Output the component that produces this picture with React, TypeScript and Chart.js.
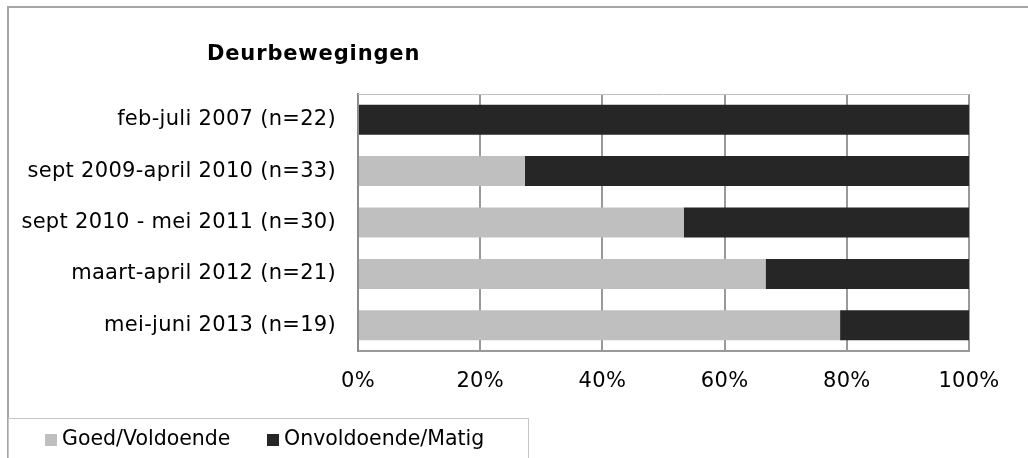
import React, { useEffect, useRef } from "react";
import { Chart, registerables } from "chart.js";

Chart.register(...registerables);

const categories = [
  "feb-juli 2007 (n=22)",
  "sept 2009-april 2010 (n=33)",
  "sept 2010 - mei 2011 (n=30)",
  "maart-april 2012 (n=21)",
  "mei-juni 2013 (n=19)",
];
const goedValues = [0, 27.3, 53.3, 66.7, 78.9];
const onvoldoendeValues = [100, 72.7, 46.7, 33.3, 21.1];
const seriesNames = ["Goed/Voldoende", "Onvoldoende/Matig"];
const seriesColors = ["#bfbfbf", "#262626"];
const titleText = "Deurbewegingen";

const FONT = "'DejaVu Sans', Verdana, sans-serif";

const framePlugin = {
  id: "frame",
  beforeDraw(chart: any) {
    const ctx = chart.ctx;
    ctx.save();
    ctx.fillStyle = "#ffffff";
    ctx.fillRect(0, 0, chart.width, chart.height);
    ctx.restore();
    (ctx as any).letterSpacing = "0.3px";
  },
  beforeDatasetsDraw(chart: any) {
    const { ctx, chartArea } = chart;
    ctx.save();
    ctx.strokeStyle = "#c0c0c0";
    ctx.lineWidth = 1;
    ctx.beginPath();
    ctx.moveTo(chartArea.left, chartArea.top + 0.5);
    ctx.lineTo(chartArea.right, chartArea.top + 0.5);
    ctx.stroke();
    ctx.restore();
  },
  afterDraw(chart: any) {
    const ctx = chart.ctx;
    ctx.save();
    // outer frame
    ctx.strokeStyle = "#a6a6a6";
    ctx.lineWidth = 2;
    ctx.strokeRect(8, 7, chart.width + 20, chart.height + 20);
    // title
    ctx.fillStyle = "#000";
    (ctx as any).letterSpacing = "0.85px";
    ctx.font = `bold 21px ${FONT}`;
    ctx.textAlign = "left";
    ctx.textBaseline = "alphabetic";
    ctx.fillText(titleText, 207, 60);
    // legend box
    ctx.strokeStyle = "#c4c4c4";
    ctx.lineWidth = 1;
    ctx.strokeRect(8.5, 418.5, 520, 60);
    // legend items
    const items = chart.data.datasets.map((d: any) => ({ label: d.label, color: d.backgroundColor }));
    const xs = [45, 267];
    (ctx as any).letterSpacing = "0px";
    ctx.font = `20.5px ${FONT}`;
    ctx.textBaseline = "middle";
    items.forEach((it: any, i: number) => {
      ctx.fillStyle = it.color;
      ctx.fillRect(xs[i], 434, 12, 12);
      ctx.fillStyle = "#000";
      ctx.fillText(it.label, xs[i] + 17, 440);
    });
    ctx.restore();
  },
};

export default function App() {
  const ref = useRef<HTMLCanvasElement | null>(null);
  useEffect(() => {
    if (!ref.current) return;
    const chart = new Chart(ref.current, {
      type: "bar",
      data: {
        labels: categories,
        datasets: [
          {
            label: seriesNames[0],
            data: goedValues,
            backgroundColor: seriesColors[0],
            barPercentage: 0.584,
            categoryPercentage: 1,
          },
          {
            label: seriesNames[1],
            data: onvoldoendeValues,
            backgroundColor: seriesColors[1],
            barPercentage: 0.584,
            categoryPercentage: 1,
          },
        ],
      },
      options: {
        indexAxis: "y",
        responsive: false,
        animation: false,
        layout: { padding: { left: 8, top: 94, right: 59, bottom: 0 } },
        plugins: {
          legend: { display: false },
          title: { display: false },
          tooltip: { enabled: false },
        },
        scales: {
          x: {
            stacked: true,
            min: 0,
            max: 100,
            ticks: {
              stepSize: 20,
              padding: 18,
              color: "#000",
              font: { family: FONT, size: 21 },
              callback: (v: any) => `${v}%`,
              maxRotation: 0,
            },
            grid: { color: "#999999", lineWidth: 2, drawTicks: false },
            border: { display: true, color: "#999999", width: 2 },
            afterFit: (scale: any) => {
              scale.height = 107;
            },
          },
          y: {
            stacked: true,
            ticks: {
              padding: 22,
              color: "#000",
              font: { family: FONT, size: 21 },
            },
            grid: { display: false, drawTicks: false },
            border: { display: true, color: "#8c8c8c", width: 2 },
            afterFit: (scale: any) => {
              scale.width = 350;
            },
          },
        },
      },
      plugins: [framePlugin],
    });
    return () => chart.destroy();
  }, []);
  return (
    <div style={{ position: "fixed", left: 0, top: 0, width: 1028, height: 458, background: "#fff" }}>
      <canvas ref={ref} width={1028} height={458} style={{ display: "block" }} />
    </div>
  );
}
